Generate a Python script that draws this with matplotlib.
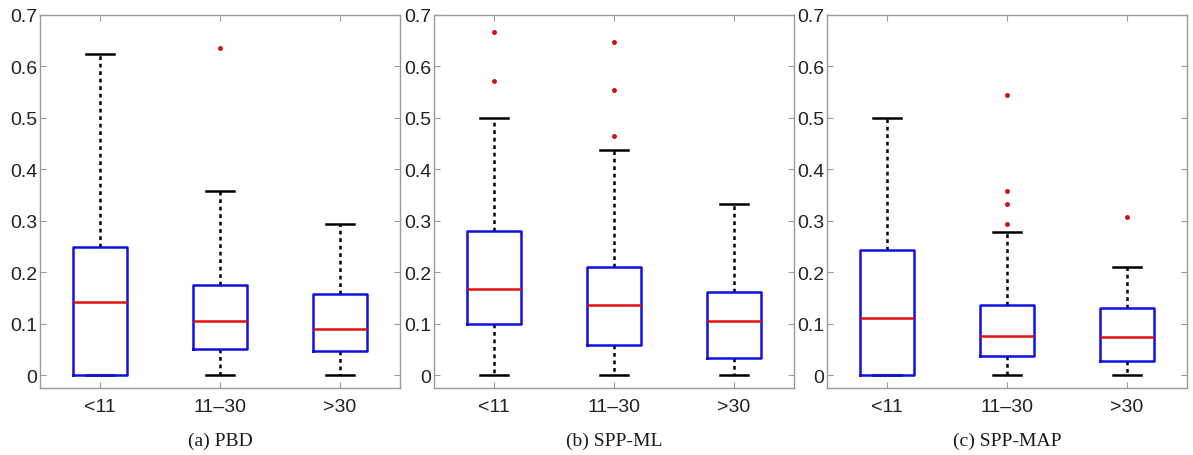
#boxplots of relative error for PBD, SPP-ML and SPP-MAP
import matplotlib
matplotlib.use('Agg')
import matplotlib.pyplot as plt

groups = ['<11', '11–30', '>30']
captions = ['(a) PBD', '(b) SPP-ML', '(c) SPP-MAP']

# per panel: lower whisker, q1, median, q3, upper whisker, outliers
pbd_low = [0.0, 0.0, 0.0]
pbd_q1 = [0.0, 0.050, 0.047]
pbd_med = [0.143, 0.106, 0.089]
pbd_q3 = [0.250, 0.176, 0.158]
pbd_high = [0.624, 0.357, 0.294]
pbd_out = [[], [0.635], []]

ml_low = [0.0, 0.0, 0.0]
ml_q1 = [0.100, 0.058, 0.033]
ml_med = [0.168, 0.137, 0.105]
ml_q3 = [0.280, 0.210, 0.161]
ml_high = [0.500, 0.437, 0.333]
ml_out = [[0.667, 0.572], [0.647, 0.555, 0.465], []]

map_low = [0.0, 0.0, 0.0]
map_q1 = [0.0, 0.038, 0.028]
map_med = [0.111, 0.077, 0.075]
map_q3 = [0.243, 0.137, 0.131]
map_high = [0.500, 0.278, 0.211]
map_out = [[], [0.545, 0.357, 0.333, 0.294], [0.307]]

panels = [
    (pbd_low, pbd_q1, pbd_med, pbd_q3, pbd_high, pbd_out),
    (ml_low, ml_q1, ml_med, ml_q3, ml_high, ml_out),
    (map_low, map_q1, map_med, map_q3, map_high, map_out),
]

W, H = 1193, 456
fig = plt.figure(figsize=(W / 100, H / 100), dpi=100)
lefts = [40, 434, 827]  # pixel left edge of each axes
gray = '#9a9a9a'

for i, (lo, q1, med, q3, hi, out) in enumerate(panels):
    ax = fig.add_axes([lefts[i] / W, 1 - 389 / H, 360 / W, (389 - 16) / H])
    stats = []
    for k in range(3):
        stats.append({'whislo': lo[k], 'q1': q1[k], 'med': med[k],
                      'q3': q3[k], 'whishi': hi[k], 'fliers': out[k]})
    ax.bxp(stats, positions=[1, 2, 3], widths=0.45, showfliers=True,
           boxprops=dict(color='#1010e0', linewidth=1.8, zorder=4),
           medianprops=dict(color='#e01010', linewidth=1.8, zorder=5),
           whiskerprops=dict(color='black', linewidth=1.8, linestyle=(0, (1.5, 1.5)), zorder=2),
           capprops=dict(color='black', linewidth=1.8, zorder=2),
           capwidths=0.23,
           flierprops=dict(marker='o', markersize=2.5, markerfacecolor='#d01010',
                           markeredgecolor='#d01010', linestyle='none'))
    ax.set_xlim(0.5, 3.5)
    ax.set_ylim(-0.025, 0.7)
    ax.set_yticks([0, 0.1, 0.2, 0.3, 0.4, 0.5, 0.6, 0.7])
    ax.set_yticklabels(['0', '0.1', '0.2', '0.3', '0.4', '0.5', '0.6', '0.7'])
    ax.set_xticks([1, 2, 3])
    ax.set_xticklabels(groups)
    ax.tick_params(direction='in', length=4, width=0.8, color=gray,
                   top=True, right=True, labelsize=14, labelcolor='#222222')
    ax.tick_params(axis='y', pad=2)
    ax.tick_params(axis='x', pad=7)
    for lab in ax.get_xticklabels() + ax.get_yticklabels():
        lab.set_family('Liberation Sans')
    for s in ax.spines.values():
        s.set_color(gray)
        s.set_linewidth(1.0)
    ax.text(0.5, -0.139, captions[i], transform=ax.transAxes, ha='center', va='center',
            fontsize=14, family='Liberation Serif', color='#1a1a1a')

fig.savefig('out.png', dpi=100)
